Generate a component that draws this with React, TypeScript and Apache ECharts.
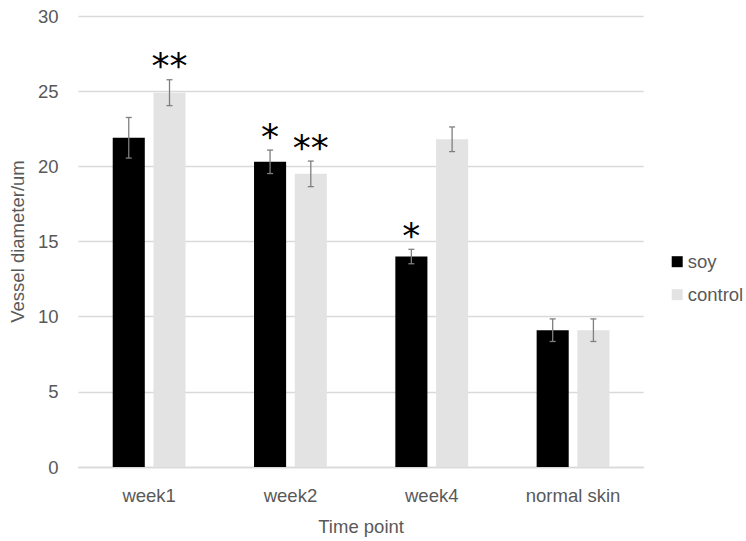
import React, { useEffect, useRef } from "react";
import * as echarts from "echarts";

// Time points on the x axis
const categories = ["week1", "week2", "week4", "normal skin"];

// Mean vessel diameter (um) per group
const soyValues = [21.9, 20.3, 14.0, 9.1];
const controlValues = [24.9, 19.5, 21.8, 9.1];

// Error bar half-lengths (um)
const soyErrors = [1.35, 0.78, 0.48, 0.75];
const controlErrors = [0.86, 0.85, 0.82, 0.75];

// Significance marks above each bar
const soyMarks = ["", "*", "*", ""];
const controlMarks = ["**", "**", "", ""];

const yTicks = { min: 0, max: 30, interval: 5 };

const FONT = "Liberation Sans";
const TEXT_COLOR = "#595959";
const BAR_WIDTH_RATIO = 0.227;
const BAR_GAP_RATIO = 0.27;

function errorSeries(name: string, values: number[], errors: number[], marks: string[], side: number) {
  return {
    type: "custom",
    name: name + "-err",
    silent: true,
    z: 5,
    data: values.map((v, i) => [i, v, errors[i]]),
    renderItem: (params: any, api: any) => {
      const idx = api.value(0);
      const val = api.value(1);
      const err = api.value(2);
      const mark = marks[params.dataIndex];
      const band = api.size([1, 0])[0];
      const bw = band * BAR_WIDTH_RATIO;
      const offset = side * (bw + bw * BAR_GAP_RATIO) / 2;
      const top = api.coord([idx, val + err]);
      const bottom = api.coord([idx, val - err]);
      const x = top[0] + offset;
      const cap = 3;
      const lineStyle = { stroke: "#7f7f7f", lineWidth: 1.3 };
      const children: any[] = [
        { type: "line", shape: { x1: x, y1: top[1], x2: x, y2: bottom[1] }, style: lineStyle },
        { type: "line", shape: { x1: x - cap, y1: top[1], x2: x + cap, y2: top[1] }, style: lineStyle },
        { type: "line", shape: { x1: x - cap, y1: bottom[1], x2: x + cap, y2: bottom[1] }, style: lineStyle },
      ];
      if (mark) {
        children.push({
          type: "text",
          x: x,
          y: top[1] - 14,
          style: {
            text: mark,
            font: "36px 'DejaVu Sans'",
            fill: "#000000",
            align: "center",
            verticalAlign: "middle",
          },
        });
      }
      return { type: "group", children };
    },
  };
}

export default function App() {
  const ref = useRef<HTMLDivElement>(null);

  useEffect(() => {
    if (!ref.current) return;
    const chart = echarts.init(ref.current, undefined, { renderer: "svg" });
    chart.setOption({
      animation: false,
      backgroundColor: "#ffffff",
      textStyle: { fontFamily: FONT },
      grid: { left: 76.7, right: 102.3, top: 16, bottom: 68.5, containLabel: false },
      legend: {
        orient: "vertical",
        left: 666.7,
        top: 246.7,
        itemWidth: 11,
        itemHeight: 11,
        itemGap: 13,
        icon: "rect",
        textStyle: { fontFamily: FONT, fontSize: 18.5, color: TEXT_COLOR, lineHeight: 20 },
        data: ["soy", "control"],
      },
      xAxis: {
        type: "category",
        data: categories,
        name: "Time point",
        nameLocation: "middle",
        nameGap: 50,
        nameTextStyle: { fontFamily: FONT, fontSize: 18.5, color: TEXT_COLOR },
        axisLine: { show: true, lineStyle: { color: "#d9d9d9", width: 1.3 } },
        axisTick: { show: false },
        axisLabel: { fontFamily: FONT, fontSize: 18.5, color: TEXT_COLOR, margin: 19 },
      },
      yAxis: {
        type: "value",
        min: yTicks.min,
        max: yTicks.max,
        interval: yTicks.interval,
        name: "Vessel diameter/um",
        nameLocation: "middle",
        nameGap: 45,
        nameTextStyle: { fontFamily: FONT, fontSize: 18.5, color: TEXT_COLOR },
        axisLine: { show: false },
        axisTick: { show: false },
        axisLabel: { fontFamily: FONT, fontSize: 18.5, color: TEXT_COLOR, margin: 20 },
        splitLine: { lineStyle: { color: "#d9d9d9", width: 1.3 } },
      },
      series: [
        {
          name: "soy",
          type: "bar",
          data: soyValues,
          barWidth: (BAR_WIDTH_RATIO * 100) + "%",
          barGap: (BAR_GAP_RATIO * 100) + "%",
          itemStyle: { color: "#000000" },
        },
        {
          name: "control",
          type: "bar",
          data: controlValues,
          barWidth: (BAR_WIDTH_RATIO * 100) + "%",
          barGap: (BAR_GAP_RATIO * 100) + "%",
          itemStyle: { color: "#e3e3e3" },
        },
        errorSeries("soy", soyValues, soyErrors, soyMarks, -1),
        errorSeries("control", controlValues, controlErrors, controlMarks, 1),
      ],
    });
    return () => chart.dispose();
  }, []);

  return (
    <div
      ref={ref}
      style={{ position: "fixed", left: 0, top: 0, width: 746, height: 541, background: "#fff" }}
    />
  );
}
